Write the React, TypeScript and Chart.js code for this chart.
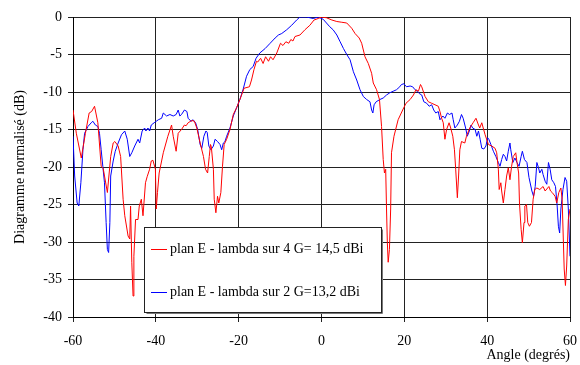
import React, { useEffect, useRef } from "react";
import { Chart, registerables } from "chart.js";
Chart.register(...registerables);

const redAngles = [
  -60, -59.2, -58.0, -57.0, -56.1, -55.5, -54.8, -54.0, -53.2, -52.7, -51.7, -50.9, -50.3, -49.9, -49.1, -48.5,
  -47.9, -47.5, -46.7, -46.3, -46.1, -45.8, -45.5, -45.3, -44.9, -44.3, -44.0, -43.5, -43.1, -42.5, -42.1, -41.5,
  -41.1, -40.7, -40.1, -39.9, -39.6, -39.2, -38.2, -37.1, -36.2, -35.8, -35.1, -34.6, -33.8, -33.1, -32.7, -32.2,
  -31.3, -30.7, -30.1, -29.3, -28.5, -28.0, -27.5, -27.1, -26.8, -26.6, -26.1, -25.9, -25.5, -25.1, -24.8, -24.3,
  -23.9, -23.5, -22.9, -22.1, -21.3, -20.5, -19.7, -18.7, -17.4, -16.9, -16.3, -15.7, -15.4, -14.7, -14.1, -13.5,
  -12.8, -12.3, -11.7, -10.8, -9.9, -9.3, -8.6, -7.9, -7.4, -6.9, -6.4, -5.2, -4.0, -2.8, -1.8, -0.8,
  0.0, 1.2, 2.5, 3.7, 4.9, 6.1, 7.3, 8.1, 9.1, 9.7, 10.5, 11.3, 12.1, 12.5, 13.3, 14.0,
  14.5, 14.9, 15.2, 15.5, 15.7, 15.9, 16.1, 16.4, 16.7, 16.9, 17.5, 18.5, 19.6, 20.4, 21.4, 22.2,
  22.8, 23.4, 23.9, 24.2, 25.0, 25.8, 26.6, 27.4, 28.2, 28.6, 29.0, 29.4, 29.8, 30.2, 30.8, 31.2,
  31.7, 32.1, 32.4, 32.8, 33.1, 33.4, 33.8, 34.6, 35.0, 35.8, 36.6, 37.3, 37.9, 38.2, 38.7, 39.5,
  40.3, 41.1, 41.9, 42.3, 42.7, 42.9, 43.3, 43.5, 43.9, 44.3, 44.7, 45.1, 45.5, 45.9, 46.3, 46.9,
  47.2, 47.6, 47.8, 48.2, 48.5, 48.9, 49.1, 49.5, 49.8, 50.2, 50.7, 51.1, 51.5, 52.0, 52.7, 53.5,
  54.0, 54.9, 55.3, 55.7, 56.4, 56.8, 57.3, 57.8, 58.1, 58.6, 58.9, 59.2, 59.6, 60.0,
];
const redDb = [
  -12.4, -15.5, -18.8, -15.5, -12.8, -12.6, -11.9, -14.1, -19.9, -20.2, -23.4, -18.6, -16.8, -16.6, -17.2, -18.6,
  -24.3, -26.5, -29.2, -29.6, -25.2, -32.7, -37.2, -31.9, -27.0, -27.0, -25.2, -24.3, -26.5, -22.1, -21.3, -20.3,
  -19.2, -19.1, -20.3, -25.6, -23.4, -20.8, -18.1, -15.9, -14.4, -15.9, -17.9, -15.5, -15.0, -14.4, -14.5, -14.1,
  -13.8, -13.9, -14.8, -16.8, -18.6, -20.3, -20.8, -18.6, -17.0, -17.3, -20.3, -24.3, -26.1, -23.9, -24.8, -23.4,
  -19.9, -17.0, -16.3, -15.0, -13.0, -12.1, -11.0, -9.5, -9.3, -8.4, -7.0, -5.9, -6.0, -5.5, -6.2, -5.3,
  -5.9, -5.3, -5.7, -4.8, -3.5, -3.8, -3.3, -3.5, -3.0, -3.2, -2.6, -2.4, -1.7, -1.1, -0.4, -0.2,
  0.0, -0.1, -0.4, -0.6, -0.7, -0.8, -1.5, -2.2, -2.8, -3.5, -5.3, -6.2, -7.5, -8.8, -9.7, -11.0,
  -14.6, -19.0, -20.8, -20.3, -25.6, -30.1, -32.7, -31.0, -25.6, -18.1, -15.9, -13.7, -12.4, -11.5, -11.0, -10.4,
  -9.7, -9.9, -9.0, -9.3, -10.6, -11.3, -11.5, -11.7, -11.9, -12.6, -13.5, -14.1, -16.3, -15.0, -14.1, -14.8,
  -15.9, -17.7, -20.3, -24.1, -21.2, -17.7, -16.6, -16.8, -15.9, -14.8, -14.1, -13.5, -14.4, -14.8, -14.1, -15.7,
  -17.0, -17.2, -17.5, -18.1, -20.3, -23.0, -22.1, -23.2, -24.8, -23.0, -21.2, -20.1, -21.7, -19.9, -18.6, -18.1,
  -19.4, -20.8, -24.8, -28.3, -30.1, -27.4, -25.2, -25.0, -27.4, -27.9, -27.4, -24.3, -23.0, -22.8, -23.0, -22.6,
  -23.2, -22.6, -23.2, -23.4, -23.9, -24.8, -23.4, -22.8, -24.3, -33.6, -35.8, -33.2, -27.0, -25.6,
];

const blueAngles = [
  -60.0, -59.6, -59.0, -58.6, -58.1, -57.6, -57.2, -56.4, -55.6, -55.2, -54.6, -54.0, -53.6, -53.2, -52.8, -52.4,
  -52.0, -51.7, -51.4, -51.1, -50.9, -50.3, -49.8, -49.1, -48.3, -47.5, -46.9, -46.3, -45.8, -45.1, -44.3, -43.9,
  -43.3, -42.7, -42.4, -41.9, -41.5, -41.1, -40.4, -39.9, -39.4, -38.6, -38.2, -37.4, -36.6, -35.8, -35.1, -34.6,
  -34.2, -33.8, -33.1, -32.5, -32.2, -31.5, -31.0, -30.4, -29.9, -29.3, -28.9, -28.4, -27.9, -27.6, -27.2, -26.7,
  -26.1, -25.7, -25.1, -24.5, -24.1, -23.7, -23.3, -22.9, -22.1, -21.3, -20.5, -19.7, -18.9, -18.1, -17.3, -16.5,
  -15.8, -14.9, -13.6, -12.4, -11.2, -10.4, -9.6, -8.4, -7.2, -6.0, -5.2, -3.6, -2.0, -0.8, 0.4, 1.2,
  2.0, 2.8, 3.7, 4.5, 5.3, 6.1, 6.9, 7.7, 8.5, 9.3, 10.1, 10.9, 11.7, 12.1, 12.4, 12.7,
  13.2, 14.1, 14.9, 15.7, 16.5, 17.3, 18.1, 18.9, 19.3, 19.9, 20.5, 21.4, 22.0, 22.6, 23.1, 23.6,
  24.2, 24.7, 25.4, 26.0, 26.6, 27.1, 27.6, 28.2, 28.6, 29.3, 29.8, 30.4, 30.9, 31.5, 31.8, 32.2,
  32.8, 33.3, 33.8, 34.2, 34.8, 35.2, 35.7, 36.1, 36.5, 37.1, 37.5, 37.9, 38.3, 38.7, 39.2, 39.7,
  40.1, 40.4, 40.9, 41.5, 42.1, 42.7, 43.1, 43.5, 43.9, 44.3, 44.7, 45.1, 45.5, 45.7, 46.2, 46.7,
  47.2, 47.7, 48.2, 48.5, 49.0, 49.6, 50.1, 50.8, 51.2, 51.6, 52.0, 52.4, 52.7, 53.2, 53.5, 54.0,
  54.4, 54.8, 55.2, 55.6, 56.1, 56.5, 56.9, 57.2, 57.5, 57.8, 58.3, 58.8, 59.2, 59.6, 60.0,
];
const blueDb = [
  -15.9, -21.2, -24.8, -25.2, -22.1, -17.7, -15.5, -14.6, -14.1, -13.9, -14.4, -14.6, -15.5, -17.7, -19.9, -22.1,
  -27.4, -31.0, -31.4, -27.4, -21.2, -19.2, -17.9, -16.8, -15.7, -15.2, -16.3, -18.6, -18.1, -17.2, -16.3, -16.8,
  -15.2, -14.8, -15.2, -14.8, -15.2, -14.4, -14.1, -13.9, -13.7, -13.5, -12.8, -13.2, -13.0, -13.2, -13.0, -12.4,
  -13.2, -13.0, -12.4, -12.6, -13.5, -13.9, -13.7, -14.1, -15.0, -17.0, -17.5, -15.9, -15.2, -15.4, -17.2, -17.7,
  -17.2, -16.3, -16.6, -17.0, -17.7, -16.8, -16.6, -15.9, -14.8, -13.2, -12.1, -11.0, -9.6, -7.9, -7.0, -6.6,
  -5.5, -4.8, -4.2, -3.5, -2.8, -2.4, -2.2, -1.7, -1.1, -0.4, 0.0, 0.0, -0.2, 0.0, -0.3, -0.8,
  -1.3, -1.7, -2.4, -3.3, -4.2, -5.0, -5.7, -7.3, -8.4, -9.7, -10.6, -11.0, -11.3, -12.4, -12.8, -11.7,
  -11.3, -11.0, -10.8, -10.4, -10.1, -9.9, -9.7, -9.3, -9.0, -8.9, -9.3, -9.2, -9.3, -9.7, -9.9, -10.2,
  -10.4, -11.3, -11.5, -11.9, -11.7, -12.4, -12.8, -12.6, -13.7, -13.2, -13.5, -12.8, -13.0, -12.8, -13.7, -14.8,
  -14.4, -13.9, -13.0, -13.5, -14.8, -15.9, -15.2, -14.4, -14.8, -15.0, -15.9, -15.2, -16.3, -17.5, -17.6, -17.2,
  -16.1, -16.3, -17.0, -17.9, -18.6, -19.4, -19.9, -19.0, -18.3, -18.6, -19.2, -17.9, -16.8, -17.7, -19.4, -18.8,
  -19.4, -19.9, -18.6, -17.9, -19.0, -19.4, -21.4, -23.2, -23.9, -22.6, -19.4, -20.1, -20.8, -20.3, -21.0, -21.9,
  -22.3, -19.4, -20.3, -21.7, -22.1, -22.6, -25.2, -27.9, -28.8, -25.6, -23.0, -21.4, -21.9, -25.6, -31.9,
];

const xTicks = [-60, -40, -20, 0, 20, 40, 60];
const yTicks = [0, -5, -10, -15, -20, -25, -30, -35, -40];
const redLabel = "plan E - lambda sur 4 G= 14,5 dBi";
const blueLabel = "plan E - lambda sur 2 G=13,2 dBi";
const xTitle = "Angle (degrés)";
const yTitle = "Diagramme normalisé (dB)";

const FONT = "'Liberation Serif', 'Times New Roman', serif";

const toPoints = (xs: number[], ys: number[]) => xs.map((x, i) => ({ x, y: ys[i] }));

const boxLegend = {
  id: "boxLegend",
  afterDatasetsDraw(chart: any) {
    const ctx = chart.ctx;
    const left = 144.5, top = 227.5, w = 237, h = 85;
    ctx.save();
    ctx.fillStyle = "#fff";
    ctx.fillRect(left, top, w, h);
    ctx.strokeStyle = "#777";
    ctx.lineWidth = 1;
    ctx.beginPath();
    ctx.moveTo(left + w + 1, top + 2);
    ctx.lineTo(left + w + 1, top + h + 1);
    ctx.lineTo(left + 2, top + h + 1);
    ctx.stroke();
    ctx.strokeStyle = "#222";
    ctx.strokeRect(left, top, w, h);
    const items = chart.data.datasets.map((d: any) => ({ label: d.label, color: d.borderColor }));
    const rowsY = [249.5, 292.5];
    ctx.font = `14px ${FONT}`;
    ctx.textBaseline = "middle";
    ctx.textAlign = "left";
    items.forEach((it: any, i: number) => {
      ctx.strokeStyle = it.color;
      ctx.beginPath();
      ctx.moveTo(151, rowsY[i]);
      ctx.lineTo(167, rowsY[i]);
      ctx.stroke();
      ctx.fillStyle = "#000";
      ctx.fillText(it.label, 170, rowsY[i]);
    });
    ctx.restore();
  },
};

export default function App() {
  const ref = useRef<HTMLCanvasElement | null>(null);
  useEffect(() => {
    document.body.style.margin = "0";
    const canvas = ref.current!;
    const chart = new Chart(canvas, {
      type: "line",
      data: {
        datasets: [
          {
            label: redLabel,
            data: toPoints(redAngles, redDb),
            borderColor: "#ff0000",
            borderWidth: 1,
            pointRadius: 0,
            tension: 0,
            fill: false,
          },
          {
            label: blueLabel,
            data: toPoints(blueAngles, blueDb),
            borderColor: "#0000ff",
            borderWidth: 1,
            pointRadius: 0,
            tension: 0,
            fill: false,
          },
        ],
      },
      options: {
        responsive: false,
        animation: false,
        layout: { padding: { left: 8, right: 10, top: 17, bottom: 0 } },
        plugins: { legend: { display: false }, tooltip: { enabled: false } },
        scales: {
          x: {
            type: "linear",
            min: -60,
            max: 60,
            afterBuildTicks: (s: any) => {
              s.ticks = xTicks.map((v) => ({ value: v }));
            },
            ticks: { color: "#000", font: { family: FONT, size: 14 }, padding: 11, maxRotation: 0 },
            grid: { color: "#222", lineWidth: 1, tickLength: 5 },
            border: { color: "#000", width: 1 },
            title: {
              display: true,
              text: xTitle,
              align: "end",
              color: "#000",
              font: { family: FONT, size: 14 },
              padding: { top: 0, bottom: 1 },
            },
            afterFit: (s: any) => {
              s.height = 48;
              s.paddingLeft = 0;
              s.paddingRight = 0;
            },
          },
          y: {
            type: "linear",
            min: -40,
            max: 0,
            afterBuildTicks: (s: any) => {
              s.ticks = yTicks.map((v) => ({ value: v }));
            },
            ticks: { color: "#000", font: { family: FONT, size: 14 }, padding: 6 },
            grid: { color: "#222", lineWidth: 1, tickLength: 5 },
            border: { color: "#000", width: 1 },
            title: {
              display: true,
              text: yTitle,
              color: "#000",
              font: { family: FONT, size: 14 },
              padding: { top: 4, bottom: 4 },
            },
            afterFit: (s: any) => {
              s.width = 65;
              s.paddingTop = 0;
              s.paddingBottom = 0;
            },
          },
        },
      },
      plugins: [boxLegend],
    } as any);
    return () => chart.destroy();
  }, []);
  return (
    <div style={{ position: "absolute", left: 0, top: 0, width: 580, height: 365, background: "#fff" }}>
      <canvas ref={ref} width={580} height={365} style={{ display: "block", width: 580, height: 365 }} />
    </div>
  );
}
